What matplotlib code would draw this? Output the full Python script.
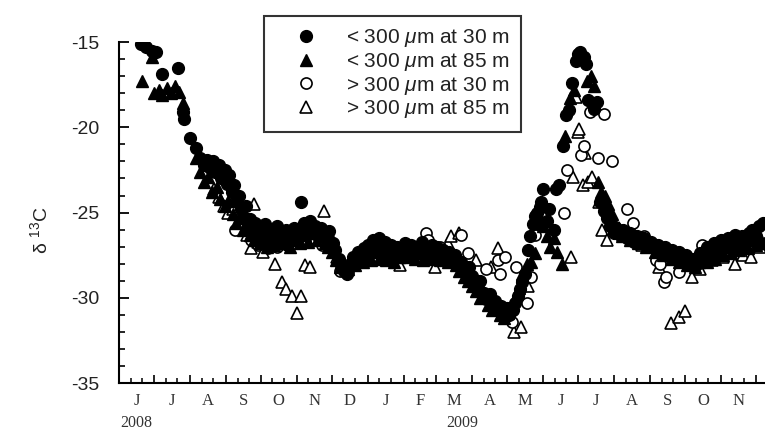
import numpy as np
import pandas as pd
import matplotlib
matplotlib.use("Agg")
import matplotlib.pyplot as plt

plt.rcParams['font.family'] = ['Liberation Sans', 'DejaVu Sans']
plt.rcParams['mathtext.fontset'] = 'custom'
plt.rcParams['mathtext.rm'] = 'Liberation Sans'
plt.rcParams['mathtext.it'] = 'Liberation Sans:italic'
plt.rcParams['axes.unicode_minus'] = False

# x = days since 1 June 2008
small_30_day = [19, 23, 28, 32, 37, 51, 55, 56, 61, 66,
                70, 73, 76, 78, 81, 83, 86, 88, 91, 93, 95, 97, 99, 101,
                103, 105, 107, 109, 111, 113, 115, 117, 119, 121,
                124, 126, 129, 131, 134, 136, 139, 141, 144, 146, 149, 151,
                154, 157, 159, 161, 164, 166, 169, 171, 174, 176, 179, 181,
                184, 186, 189, 191, 194, 196, 199, 201, 204, 206, 209, 211,
                214, 216, 219, 221, 224, 226, 229, 231, 234, 236, 239, 241, 244,
                246, 249, 251, 254, 256, 259, 261, 264, 266, 269, 271,
                274, 276, 279, 281, 284, 286, 289, 291, 294, 296, 299, 301,
                304, 306, 309, 311, 314, 316, 319, 321, 324, 326, 329, 331,
                334, 336, 339, 341, 343, 345, 347, 349, 352, 354, 356, 358, 360, 362, 363, 365,
                368, 370, 374, 376, 379, 382, 385, 387, 390, 393, 395, 397, 398, 400, 402, 404, 407, 409, 411,
                414, 417, 420, 423, 426, 428,
                431, 434, 437, 440, 443, 446, 449, 452, 455,
                458, 461, 464, 467, 470, 473, 476, 479, 482, 485,
                488, 491, 494, 497, 500, 503, 506, 509, 512, 515,
                518, 521, 524, 527, 530, 533, 536, 539, 542, 545, 548, 551, 554]
small_30_val = [-15.1, -15.3, -15.5, -15.6, -16.9, -16.5, -19.1, -19.5, -20.6, -21.2,
                -21.8, -22.2, -21.9, -22.4, -22.0, -22.6, -22.2, -23.0, -22.5, -23.3, -22.8, -23.8, -23.4, -24.3,
                -24.0, -24.8, -25.3, -24.6, -25.8, -25.4, -26.1, -25.6, -26.3, -25.9,
                -26.2, -25.7, -26.5, -26.0, -26.4, -25.8, -26.7, -26.2, -26.0, -26.6, -26.3, -25.9,
                -26.1, -24.4, -25.6, -26.0, -25.5, -26.2, -25.8, -26.4, -25.9, -26.3, -26.6, -26.1,
                -26.8, -27.2, -27.7, -28.1, -28.4, -28.6, -28.0, -27.6, -27.8, -27.3, -27.6, -27.1,
                -26.9, -27.4, -26.6, -27.0, -26.5, -27.2, -26.7, -27.3, -26.9, -27.5, -27.0, -27.4, -27.1,
                -26.8, -27.3, -26.9, -27.5, -27.0, -27.2, -26.7, -27.1, -27.4, -26.9, -27.3,
                -27.0, -27.6, -27.2, -27.7, -27.3, -27.8, -27.5, -28.0, -27.9, -28.3, -28.6, -28.2,
                -28.7, -29.1, -29.4, -29.0, -29.7, -30.1, -29.8, -30.4, -30.2, -30.7, -30.5, -30.9,
                -30.6, -31.0, -30.7, -30.3, -29.9, -29.5, -29.1, -28.6, -27.2, -26.4, -25.7, -25.2, -25.0, -24.7, -24.4, -23.6,
                -25.5, -24.8, -26.0, -23.6, -23.4, -21.1, -19.3, -19.0, -17.4, -16.1, -15.7, -15.6, -16.0, -15.9, -16.3, -18.4, -18.6, -18.9, -18.5,
                -24.4, -24.9, -25.3, -25.8, -26.2, -25.9,
                -26.3, -26.0, -26.5, -26.2, -26.7, -26.4, -26.8, -26.5, -26.9,
                -26.7, -27.1, -26.9, -27.3, -27.0, -27.5, -27.2, -27.6, -27.3, -27.8,
                -27.5, -28.0, -27.7, -28.1, -27.4, -27.8, -27.0, -27.5, -26.8, -27.2,
                -26.6, -27.0, -26.5, -26.9, -26.3, -26.7, -26.4, -26.8, -26.2, -26.0, -26.4, -25.8, -25.6]

small_85_day = [20, 28, 30, 34, 37, 41, 45, 48, 52, 55,
                66, 70, 73, 77, 80, 84, 87, 91, 94, 98, 101,
                104, 107, 110, 113, 116, 119, 121,
                124, 127, 130, 133, 137, 140, 143, 147, 150,
                153, 156, 160, 163, 167, 170, 173, 177, 180,
                183, 187, 190, 193, 197, 200, 203, 207, 210,
                214, 217, 220, 224, 227, 230, 234, 237, 241, 244,
                248, 251, 255, 258, 262, 265, 269, 272,
                276, 279, 283, 286, 290, 293, 297, 300,
                304, 307, 311, 314, 318, 321, 325, 328, 331,
                335, 338, 341, 344, 347, 351, 355, 358, 360, 362,
                365, 368, 371, 374, 377, 381, 384, 388, 392, 403, 406, 409, 412, 415, 418,
                421, 424, 427, 430, 433,
                436, 440, 443, 447, 450, 454,
                457, 461, 464, 468, 471, 475, 478, 482, 485,
                489, 492, 496, 499, 503, 506, 510, 513,
                517, 520, 524, 527, 531, 534, 538, 541, 545, 548, 552, 555]
small_85_val = [-17.3, -15.9, -18.0, -17.8, -18.1, -17.7, -18.0, -17.6, -17.9, -18.6,
                -21.8, -22.6, -23.2, -22.9, -23.8, -23.5, -24.2, -24.6, -24.3, -25.1, -25.6,
                -25.3, -26.0, -25.7, -26.3, -26.6, -26.1, -26.8,
                -26.5, -27.0, -26.6, -26.9, -26.4, -26.8, -26.5, -27.0, -26.6,
                -26.4, -26.8, -26.3, -26.7, -26.2, -26.6, -26.3, -26.8, -27.0,
                -27.3, -27.8, -28.2, -27.9, -28.3, -27.9, -28.1, -27.7, -27.9,
                -27.5, -27.8, -27.3, -27.7, -27.4, -27.8, -27.5, -27.9, -27.6, -27.3,
                -27.6, -27.2, -27.7, -27.4, -27.8, -27.5, -27.7, -27.3,
                -27.8, -27.5, -27.9, -27.6, -28.1, -28.4, -28.8, -29.0,
                -29.3, -29.6, -30.0, -29.8, -30.4, -30.7, -30.5, -31.0, -31.2,
                -30.9, -30.5, -30.0, -29.4, -28.6, -28.0, -27.9, -27.4, -25.6, -25.3,
                -25.8, -26.4, -27.0, -26.5, -27.3, -28.0, -20.5, -18.3, -17.8, -17.3, -17.0, -17.6, -23.2, -23.8, -24.0,
                -24.5, -25.1, -25.7, -26.1, -26.4,
                -26.2, -26.6, -26.3, -26.8, -26.5, -27.0,
                -26.9, -27.3, -27.0, -27.5, -27.2, -27.7, -27.4, -27.9, -27.6,
                -28.1, -27.8, -28.2, -27.9, -27.6, -27.9, -27.4, -27.7,
                -27.1, -27.5, -27.0, -27.4, -26.9, -27.2, -26.8, -27.1, -26.6, -26.9, -26.5, -26.8]

large_30_day = [100, 108, 114, 120, 128, 136, 145, 165, 175, 190, 197, 205, 225, 232, 240,
                258, 264, 266, 276, 294, 300, 316, 326, 328, 332, 338, 342, 351, 355, 358,
                383, 386, 398, 400, 405, 412, 417, 424, 437, 442, 452, 462, 466, 469, 471,
                482, 492, 502, 512, 525, 535, 546]
large_30_val = [-26.0, -25.3, -26.6, -26.9, -27.1, -27.0, -26.9, -26.5, -26.9, -28.4, -28.5, -27.9, -26.8, -27.0, -27.3,
                -27.0, -26.2, -26.6, -27.0, -26.3, -27.4, -28.3, -27.8, -28.6, -27.6, -31.4, -28.2, -30.3, -28.8, -26.3,
                -25.0, -22.5, -21.6, -21.1, -19.1, -21.8, -19.2, -22.0, -24.8, -25.6, -26.4, -27.8, -28.0, -29.1, -28.8,
                -28.5, -27.9, -26.9, -27.4, -27.2, -26.9, -26.1]

large_85_day = [82, 86, 90, 94, 98, 103, 110, 114, 116, 120, 124, 130, 134, 140, 144, 149, 153, 157,
                160, 164, 176, 182, 188, 205, 218, 230, 242, 252, 272, 283, 286, 293, 307, 320, 326,
                336, 340, 346, 352, 389, 391, 393, 395, 396, 399, 401, 404, 407, 413, 416, 420,
                430, 440, 450, 458, 463, 465, 475, 482, 487, 493, 500, 510, 520, 530, 537, 544, 552]
large_85_val = [-23.6, -24.1, -24.6, -25.0, -24.8, -25.6, -26.3, -27.1, -24.5, -26.7, -27.3, -26.8, -28.0, -29.1, -29.5, -29.9, -30.9, -29.9,
                -28.1, -28.2, -24.9, -26.3, -27.6, -27.6, -27.0, -27.4, -28.1, -27.3, -28.2, -26.8, -26.4, -26.2, -27.8, -28.2, -27.1,
                -31.2, -32.0, -31.7, -29.3, -27.6, -22.9, -18.2, -20.3, -20.1, -23.4, -21.5, -23.2, -22.9, -24.4, -26.0, -26.6,
                -25.9, -26.4, -26.9, -27.0, -27.5, -28.2, -31.5, -31.1, -30.8, -28.8, -28.3, -27.8, -27.6, -28.0, -27.5, -27.6, -27.0]

month_letters = ['J', 'J', 'A', 'S', 'O', 'N', 'D', 'J', 'F', 'M', 'A', 'M',
                 'J', 'J', 'A', 'S', 'O', 'N']
year_labels = ['2008', '2009']
year_days = [1, 282]

start = pd.Timestamp('2008-06-01')
month_starts = pd.date_range('2008-06-01', '2009-12-01', freq='MS')
ms_days = np.array([(d - start).days for d in month_starts])
mid_days = (ms_days[:-1] + ms_days[1:]) / 2.0
minor_days = np.concatenate([ms_days[:-1] + 10, ms_days[:-1] + 20])

fig = plt.figure(figsize=(7.65, 4.34), dpi=100)
ax = fig.add_axes([0.1556, 0.1175, 0.8444, 0.7855])

ax.plot(large_85_day, large_85_val, linestyle='none', marker='^', ms=8.5,
        mfc='white', mec='black', mew=1.2, label=r'> 300 $\mu$m at 85 m', zorder=2)
ax.plot(large_30_day, large_30_val, linestyle='none', marker='o', ms=8,
        mfc='white', mec='black', mew=1.2, label=r'> 300 $\mu$m at 30 m', zorder=2)
ax.plot(small_85_day, small_85_val, linestyle='none', marker='^', ms=9,
        color='black', label=r'< 300 $\mu$m at 85 m', zorder=3)
ax.plot(small_30_day, small_30_val, linestyle='none', marker='o', ms=8.5,
        color='black', label=r'< 300 $\mu$m at 30 m', zorder=4)

ax.set_xlim(0, 556)
ax.set_ylim(-35, -15)
ax.spines['top'].set_visible(False)
ax.spines['right'].set_visible(False)
for s in ['left', 'bottom']:
    ax.spines[s].set_linewidth(1.5)

ax.set_yticks([-35, -30, -25, -20, -15])
ax.set_yticks(np.arange(-35, -14, 1), minor=True)
ax.tick_params(axis='y', which='major', direction='in', length=7, width=1.3,
               labelsize=14, pad=14, labelcolor='#222222')
ax.tick_params(axis='y', which='minor', direction='in', length=4, width=1.2)

ax.set_xticks(ms_days)
ax.set_xticks(minor_days, minor=True)
ax.set_xticklabels([])
ax.tick_params(axis='x', which='major', direction='in', length=6, width=1.2)
ax.tick_params(axis='x', which='minor', direction='in', length=3.5, width=1.1)

for d, lab in zip(mid_days, month_letters):
    ax.text(d, -0.03, lab, transform=ax.get_xaxis_transform(), ha='center',
            va='top', fontsize=12, family='Liberation Serif', color='#333333')
for d, lab in zip(year_days, year_labels):
    ax.text(d, -0.118, lab, transform=ax.get_xaxis_transform(), ha='left',
            va='center', fontsize=11.5, family='Liberation Serif', color='#333333')

fig.text(0.052, 0.47, r'δ $^{13}$C', rotation=90, ha='center', va='center',
         fontsize=14, color='#222222')

handles, labels = ax.get_legend_handles_labels()
order = [3, 2, 1, 0]
leg = ax.legend([handles[i] for i in order], [labels[i] for i in order],
                loc='upper left', bbox_to_anchor=(264 / 765, 1 - 16 / 434),
                bbox_transform=fig.transFigure, fontsize=15, frameon=True,
                fancybox=False, edgecolor='black', borderpad=0.55,
                handlelength=2.9, handletextpad=0.5, labelspacing=0.08,
                borderaxespad=0)
leg.get_frame().set_linewidth(1.5)
for t in leg.get_texts():
    t.set_color('#222222')

fig.savefig('out.png', dpi=100)
